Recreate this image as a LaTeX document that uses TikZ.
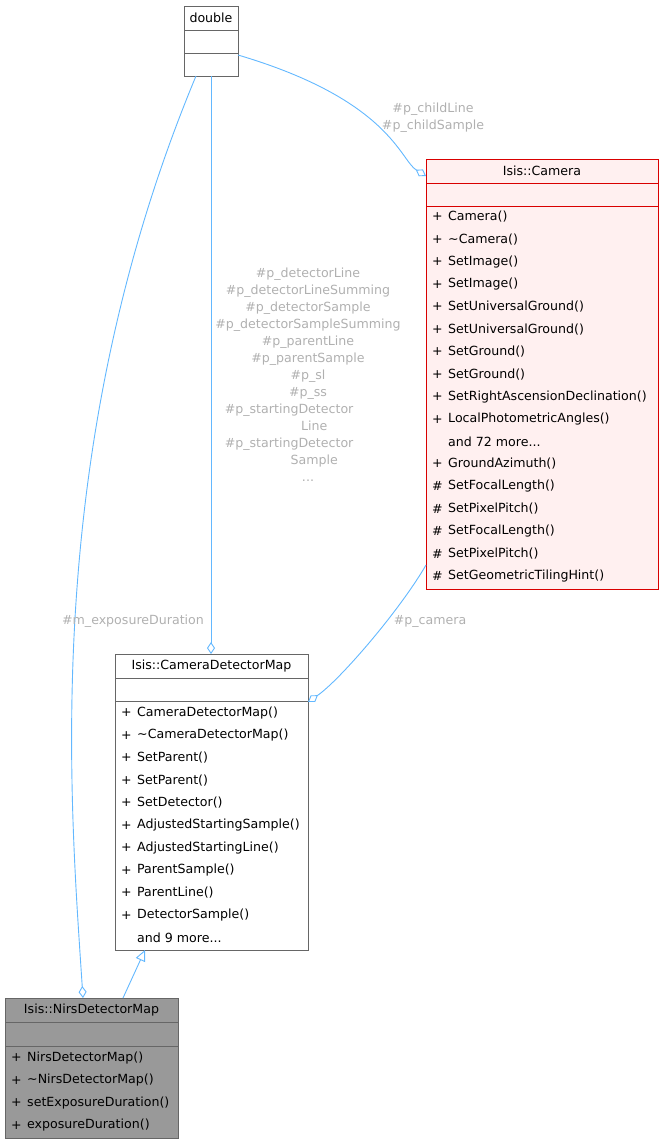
\documentclass[tikz,border=0pt]{standalone}
\usepackage{fontspec}
\setmainfont{DejaVu Sans}
\usetikzlibrary{arrows.meta,calc}
\definecolor{edge}{HTML}{63B8FF}
\definecolor{lbl}{HTML}{B0B0B0}
\newcommand\mydots{...}
\begin{document}
\begin{tikzpicture}[x=1pt,y=-1pt,
  box/.style={draw=#1,rectangle,inner sep=0pt,anchor=north west},
  t/.style={font=\fontsize{12.6}{14}\selectfont,inner sep=0pt},
  lab/.style={font=\fontsize{12.6}{17}\selectfont,text=lbl,inner sep=0pt,align=center},
  con/.style={draw=edge,line width=0.9pt},
  agg/.style={con,{Diamond[open,fill=white,length=12pt,width=8pt]}-},
  inh/.style={con,-{Triangle[open,fill=white,length=11pt,width=10pt]}}]
\useasboundingbox (0,0) rectangle (664,1144);
% double
\node[box=black!60,fill=white,minimum width=54pt,minimum height=70pt] (dbl) at (184,6) {};
\draw[black!60] (184,30)--(238,30) (184,53)--(238,53);
\node[t] (dblt) at (211,18) {double};
% Camera
\node[box=red!85!black,fill=red!6,minimum width=232pt,minimum height=430pt] (cam) at (426,159) {};
\draw[red!85!black] (426,183)--(658,183) (426,206)--(658,206);
\node[t] (camt) at (542,171) {Isis::Camera};
\foreach \p/\n [count=\i from 0] in {+/Camera(),+/\textasciitilde Camera(),+/SetImage(),+/SetImage(),+/SetUniversalGround(),+/SetUniversalGround(),+/SetGround(),+/SetGround(),+/SetRightAscensionDeclination(),+/LocalPhotometricAngles(),{}/and 72 more\mydots,+/GroundAzimuth(),\#/SetFocalLength(),\#/SetPixelPitch(),\#/SetFocalLength(),\#/SetPixelPitch(),\#/SetGeometricTilingHint()}{
  \node[t,anchor=west] (cp\i) at (432,{217+22.45*\i}) {\p};
  \node[t,anchor=west] (cn\i) at (448,{217+22.45*\i}) {\n};}
% CameraDetectorMap
\node[box=black!60,fill=white,minimum width=193pt,minimum height=296pt] (cdm) at (115,654) {};
\draw[black!60] (115,678)--(308,678) (115,701)--(308,701);
\node[t] (cdmt) at (211.5,666) {Isis::CameraDetectorMap};
\foreach \p/\n [count=\i from 0] in {+/CameraDetectorMap(),+/\textasciitilde CameraDetectorMap(),+/SetParent(),+/SetParent(),+/SetDetector(),+/AdjustedStartingSample(),+/AdjustedStartingLine(),+/ParentSample(),+/ParentLine(),+/DetectorSample(),{}/and 9 more\mydots}{
  \node[t,anchor=west] (dp\i) at (121,{713+22.5*\i}) {\p};
  \node[t,anchor=west] (dn\i) at (137,{713+22.5*\i}) {\n};}
% NirsDetectorMap
\node[box=black!60,fill=black!40,minimum width=173pt,minimum height=140pt] (nirs) at (5,998) {};
\draw[black!60] (5,1022)--(178,1022) (5,1046)--(178,1046);
\node[t] (nirst) at (91.5,1010) {Isis::NirsDetectorMap};
\foreach \p/\n [count=\i from 0] in {+/NirsDetectorMap(),+/\textasciitilde NirsDetectorMap(),+/setExposureDuration(),+/exposureDuration()}{
  \node[t,anchor=west] (np\i) at (11,{1058+22.5*\i}) {\p};
  \node[t,anchor=west] (nn\i) at (27,{1058+22.5*\i}) {\n};}
% anchors
\coordinate (d1) at (238,55);
\coordinate (d2) at (211,76);
\coordinate (d3) at (196,76);
\coordinate (c1) at (426,176);
\coordinate (c2) at (426,565);
\coordinate (m1) at (211,654);
\coordinate (m2) at (308,702);
\coordinate (m3) at (145,950);
\coordinate (n1) at (83,998);
\coordinate (n2) at (123,998);
% edges
\draw[agg] (c1) .. controls (400,160) and (390,100) .. (d1);
\draw[agg] (m1) -- (d2);
\draw[agg] (n1) .. controls (70,800) and (40,450) .. (d3);
\draw[agg] (m2) .. controls (340,680) and (400,610) .. (c2);
\draw[inh] (n2) -- (m3);
% labels
\node[lab] (l1) at (433,118) {\#p\_childLine\\\#p\_childSample};
\node[lab] (l2) at (308,375) {\#p\_detectorLine\\\#p\_detectorLineSumming\\\#p\_detectorSample\\\#p\_detectorSampleSumming\\\#p\_parentLine\\\#p\_parentSample\\\#p\_sl\\\#p\_ss\\\hspace*{-3em}\#p\_startingDetector\\\quad Line\\\hspace*{-3em}\#p\_startingDetector\\\quad Sample\\\mydots};
\node[lab] (l3) at (133,621) {\#m\_exposureDuration};
\node[lab] (l4) at (430,621) {\#p\_camera};
\end{tikzpicture}
\end{document}
